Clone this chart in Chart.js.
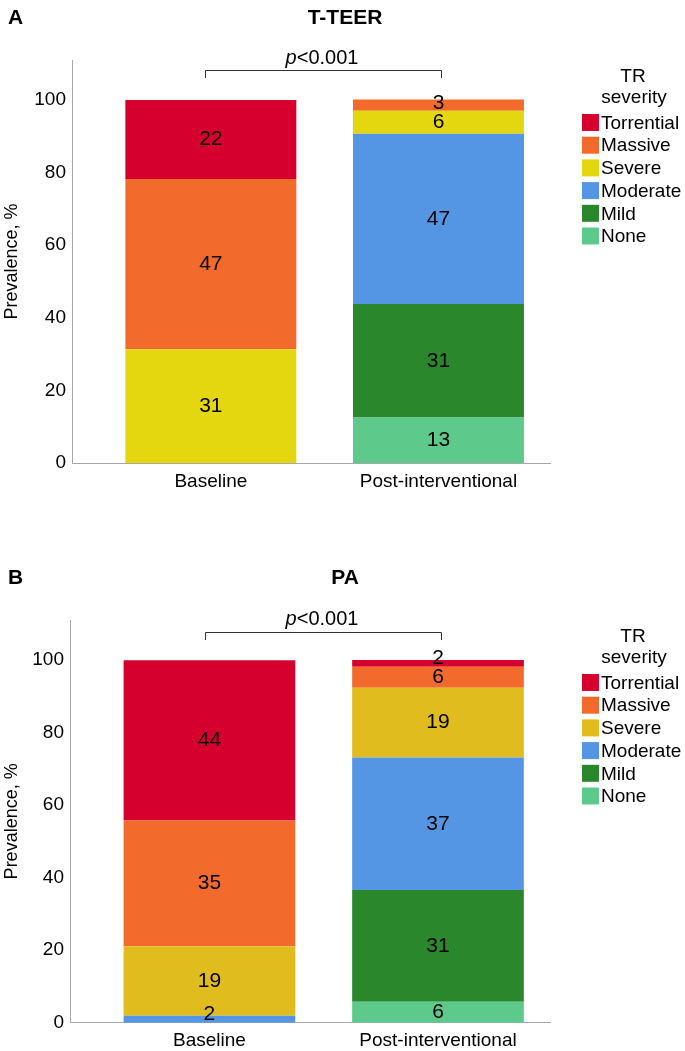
<!DOCTYPE html>
<html><head><meta charset="utf-8">
<script src="https://cdn.jsdelivr.net/npm/chart.js@4.4.0/dist/chart.umd.min.js"></script>
<style>
html,body{margin:0;padding:0;background:#fff;overflow:hidden;}
#a{position:absolute;left:0;top:0;width:685px;height:560px;}
#b{position:absolute;left:0;top:560px;width:685px;height:491px;}
</style></head><body>
<div id="a"><canvas id="ca"></canvas></div>
<div id="b"><canvas id="cb"></canvas></div>
<script>
// ---- data ----
const categories = ['Baseline', 'Post-interventional'];
const severities = ['Torrential', 'Massive', 'Severe', 'Moderate', 'Mild', 'None'];
const yTicks = [0, 20, 40, 60, 80, 100];
// T-TEER prevalence, % [Baseline, Post-interventional]
const teerTorrential = [21.8, 0];
const teerMassive    = [46.9, 3.1];
const teerSevere     = [31.3, 6.3];
const teerModerate   = [0, 46.9];
const teerMild       = [0, 31.3];
const teerNone       = [0, 12.5];
// PA prevalence, %
const paTorrential = [44.2, 1.9];
const paMassive    = [34.6, 5.8];
const paSevere     = [19.2, 19.2];
const paModerate   = [1.9, 36.5];
const paMild       = [0, 30.8];
const paNone       = [0, 5.8];

const FONT = '"Liberation Sans", Arial, sans-serif';
const colorsA = {Torrential:'#D6002F', Massive:'#F26A2C', Severe:'#E4D60F', Moderate:'#5596E4', Mild:'#2A872B', None:'#5DC98A'};
const colorsB = {Torrential:'#D6002F', Massive:'#F26A2C', Severe:'#E0BC1F', Moderate:'#5596E4', Mild:'#2A872B', None:'#5DC98A'};

const segLabels = {
  id: 'segLabels',
  afterDatasetsDraw(chart) {
    const ctx = chart.ctx;
    const bottom = chart.chartArea.bottom;
    const cols = {};
    chart.data.datasets.forEach((ds, di) => {
      const meta = chart.getDatasetMeta(di);
      meta.data.forEach((el, i) => {
        const v = ds.data[i].y;
        if (!v) return;
        (cols[i] = cols[i] || []).push({x: el.x, y: (el.y + el.base) / 2, t: String(Math.round(v))});
      });
    });
    ctx.save();
    ctx.font = '21px ' + FONT;
    ctx.fillStyle = '#000';
    ctx.textAlign = 'center';
    ctx.textBaseline = 'middle';
    Object.values(cols).forEach(list => {
      list.sort((a, b) => b.y - a.y);
      list.forEach((l, k) => {
        l.y = Math.min(l.y, bottom - 8);
        if (k > 0 && list[k-1].y - l.y < 19) l.y = list[k-1].y - 19;
        ctx.fillText(l.t, l.x, l.y);
      });
    });
    ctx.restore();
  }
};

const decor = {
  id: 'decor',
  afterDraw(chart, args, o) {
    const ctx = chart.ctx;
    ctx.save();
    ctx.fillStyle = '#000';
    ctx.textBaseline = 'middle';
    ctx.font = 'bold 21px ' + FONT;
    ctx.textAlign = 'left';
    ctx.fillText(o.letter, 8, o.hy);
    ctx.textAlign = 'center';
    ctx.fillText(o.title, 345, o.hy);
    // bracket
    ctx.strokeStyle = '#333';
    ctx.lineWidth = 1;
    ctx.beginPath();
    ctx.moveTo(o.bx1 + .5, o.by + 8);
    ctx.lineTo(o.bx1 + .5, o.by + .5);
    ctx.lineTo(o.bx2 + .5, o.by + .5);
    ctx.lineTo(o.bx2 + .5, o.by + 8);
    ctx.stroke();
    // p value
    ctx.textBaseline = 'alphabetic';
    ctx.textAlign = 'left';
    ctx.font = 'italic 20px ' + FONT;
    const wp = ctx.measureText('p').width;
    ctx.font = '20px ' + FONT;
    const wr = ctx.measureText('<0.001').width;
    const x0 = 322 - (wp + wr) / 2;
    ctx.font = 'italic 20px ' + FONT;
    ctx.fillText('p', x0, o.py);
    ctx.font = '20px ' + FONT;
    ctx.fillText('<0.001', x0 + wp, o.py);
    // legend
    ctx.textAlign = 'center';
    ctx.textBaseline = 'middle';
    ctx.font = '19px ' + FONT;
    ctx.fillText('TR', 633, o.lt1);
    ctx.fillText('severity', 634, o.lt2);
    ctx.textAlign = 'left';
    const ds = chart.data.datasets.slice().reverse();
    ds.forEach((d, i) => {
      const cy = 122.5 + 22.7 * i;
      ctx.fillStyle = d.backgroundColor;
      ctx.fillRect(582, cy - 8.5, 17, 17);
      ctx.fillStyle = '#000';
      ctx.fillText(d.label, 601, cy + 1);
    });
    ctx.restore();
  }
};

function makeChart(id, series, colors, o) {
  const order = severities.slice().reverse(); // bottom to top
  const datasets = order.map(name => ({
    label: name,
    data: categories.map((c, i) => ({x: i, y: series[name][i]})),
    backgroundColor: colors[name],
    borderWidth: 0,
    categoryPercentage: 1,
    barPercentage: 0.751
  }));
  const axisColor = '#a8a8a8';
  return new Chart(document.getElementById(id), {
    type: 'bar',
    data: {datasets},
    plugins: [segLabels, decor],
    options: {
      responsive: true,
      maintainAspectRatio: false,
      animation: false,
      layout: {padding: {top: 60, right: 135, left: 0, bottom: 0}},
      plugins: {
        legend: {display: false},
        tooltip: {enabled: false},
        decor: o
      },
      scales: {
        x: {
          type: 'linear', stacked: true, min: -0.61, max: 1.49, offset: false,
          grid: {display: false, drawTicks: false, offset: false},
          border: {color: axisColor, width: 1},
          ticks: {font: {family: FONT, size: 19}, color: '#000', padding: 7, autoSkip: false, maxRotation: 0,
                  callback: v => categories[v]},
          afterBuildTicks: s => { s.ticks = categories.map((c, i) => ({value: i})); },
          afterFit: s => { s.height = o.xh; }
        },
        y: {
          stacked: true, min: 0, max: 111,
          grid: {display: false, drawTicks: false},
          border: {color: axisColor, width: 1},
          ticks: {font: {family: FONT, size: 19}, color: '#000', padding: 6},
          afterBuildTicks: s => { s.ticks = yTicks.map(v => ({value: v})); },
          afterFit: s => { s.width = o.yw; },
          title: {display: true, text: 'Prevalence, %', font: {family: FONT, size: 18}, color: '#000', padding: {top: 1, bottom: 0}}
        }
      }
    }
  });
}

makeChart('ca',
  {Torrential: teerTorrential, Massive: teerMassive, Severe: teerSevere, Moderate: teerModerate, Mild: teerMild, None: teerNone},
  colorsA,
  {letter: 'A', title: 'T-TEER', hy: 18, bx1: 205, bx2: 441, by: 70, py: 64, lt1: 77, lt2: 98, xh: 97, yw: 72});
makeChart('cb',
  {Torrential: paTorrential, Massive: paMassive, Severe: paSevere, Moderate: paModerate, Mild: paMild, None: paNone},
  colorsB,
  {letter: 'B', title: 'PA', hy: 18, bx1: 205, bx2: 441, by: 72, py: 65, lt1: 77, lt2: 98, xh: 28.3, yw: 70});
</script>
</body></html>
